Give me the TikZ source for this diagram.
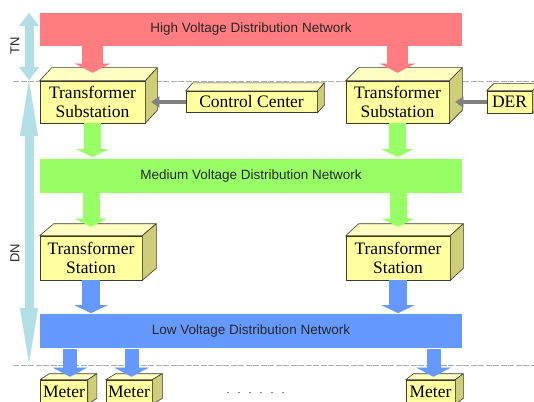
\documentclass[tikz,border=0pt]{standalone}
\usepackage{fontspec}
\setmainfont{Liberation Serif}
\setsansfont{Liberation Sans}
\usetikzlibrary{arrows.meta}
\definecolor{hvred}{RGB}{255,124,128}
\definecolor{mvgreen}{RGB}{153,255,102}
\definecolor{lvblue}{RGB}{102,153,255}
\definecolor{cubefrontc}{RGB}{255,255,160}
\definecolor{cubetopc}{RGB}{255,255,196}
\definecolor{cubesidec}{RGB}{206,206,120}
\definecolor{cubeedge}{RGB}{60,60,45}
\definecolor{dimblue}{RGB}{178,222,229}
\definecolor{ctrlgray}{RGB}{128,128,128}
\definecolor{sepgray}{RGB}{170,170,170}
\tikzset{
  bar/.style={fill=#1, draw=none, minimum width=422pt, minimum height=33.5pt, inner sep=0pt,
    font=\sffamily\fontsize{13.5}{16}\selectfont, text=black!85},
  cubefront/.style={fill=cubefrontc, draw=cubeedge, line width=0.6pt, inner sep=0pt, align=center,
    font=\rmfamily\fontsize{17.5}{19}\selectfont},
  cubetop/.style={fill=cubetopc, draw=cubeedge, line width=0.6pt, line join=round},
  cubeside/.style={fill=cubesidec, draw=cubeedge, line width=0.6pt, line join=round},
  blockarrow/.style n args={4}{draw=#1, line width=#2,
    -{Triangle[length=#3 0 0, width=#4 0 0, line width=0.01pt]}},
  ctrlarrow/.style={draw=ctrlgray, line width=4pt,
    -{Triangle[length=8pt 0 0, width=11pt 0 0, line width=0.01pt]}},
  sepline/.style={draw=sepgray, line width=0.8pt, dash pattern=on 6pt off 1.5pt},
  dimlabel/.style={font=\sffamily\fontsize{13}{15}\selectfont, rotate=90, text=black!85},
}
\newcommand\cubenode[6]{%
  \node[cubefront, minimum width=#3, minimum height=#4] (#1) at (#2) {#6};
  \filldraw[cubetop] (#1.north west) -- ++(#5) -- ([shift={(#5)}]#1.north east) -- (#1.north east) -- cycle;
  \filldraw[cubeside] (#1.north east) -- ++(#5) -- ([shift={(#5)}]#1.south east) -- (#1.south east) -- cycle;
}
\begin{document}
\begin{tikzpicture}[x=1pt,y=-1pt]
\useasboundingbox (0,0) rectangle (534,401);
\clip (0,0) rectangle (534,401);
\fill[white] (0,0) rectangle (534,401);

% separator lines
\coordinate (s1a) at (13,81);
\coordinate (s1b) at (534,81);
\coordinate (s2a) at (13,365);
\coordinate (s2b) at (534,365);
\draw[sepline] (s1a) -- (s1b);
\draw[sepline] (s2a) -- (s2b);

% TN / DN dimension arrows
\coordinate (tnTop) at (29,13);
\coordinate (tnBot) at (29,80);
\coordinate (dnTop) at (29,81);
\coordinate (dnBot) at (29,363);
\draw[draw=dimblue, line width=9pt,
  {Triangle[length=13pt 0 0, width=20pt 0 0, line width=0.01pt]}-{Triangle[length=13pt 0 0, width=20pt 0 0, line width=0.01pt]}]
  (tnTop) -- (tnBot);
\draw[draw=dimblue, line width=9pt,
  {Triangle[length=55pt 0 0, width=18pt 0 0, line width=0.01pt]}-{Triangle[length=55pt 0 0, width=18pt 0 0, line width=0.01pt]}]
  (dnTop) -- (dnBot);
\node[dimlabel] (tn) at (15,46) {TN};
\node[dimlabel] (dn) at (15,253) {DN};

% bars
\node[bar=hvred] (hv) at (251,29.5) {High Voltage Distribution Network};
\node[bar=mvgreen] (mv) at (251,176) {Medium Voltage Distribution Network};
\node[bar=lvblue, minimum height=34pt] (lv) at (251,331.3) {Low Voltage Distribution Network};

% boxes
\cubenode{ts1}{92.5,102}{105pt}{42pt}{12,-13}{Transformer\\Substation}
\cubenode{ts2}{397.5,102}{103pt}{42pt}{13,-13}{Transformer\\Substation}
\cubenode{cc}{251.5,102}{131pt}{21.5pt}{7,-8}{Control Center}
\cubenode{der}{509.5,102}{45pt}{22pt}{7,-7}{DER}
\cubenode{tst1}{91,258}{102pt}{44pt}{14,-12}{Transformer\\Station}
\cubenode{tst2}{398,258}{104pt}{44pt}{13,-12}{Transformer\\Station}
\cubenode{m1}{64,392}{47pt}{24pt}{9,-6}{Meter}
\cubenode{m2}{129,392}{46pt}{24pt}{10,-6}{Meter}
\cubenode{m3}{430.5,392}{49pt}{24pt}{8,-6}{Meter}

% dots
\node[font=\rmfamily\fontsize{10}{12}\selectfont] (dots) at (255.5,393)
  {.\hspace{8.5pt}.\hspace{8.5pt}.\hspace{8.5pt}.\hspace{8.5pt}.\hspace{8.5pt}.};

% HV -> substations
\draw[blockarrow={hvred}{21pt}{9pt}{35pt}] (hv.south -| ts1.north) -- ([yshift=8pt]ts1.north);
\draw[blockarrow={hvred}{21pt}{9pt}{35pt}] (hv.south -| ts2.north) -- ([yshift=8pt]ts2.north);

% control / DER
\draw[ctrlarrow] (cc.west) -- ([xshift=6pt]ts1.east);
\draw[ctrlarrow] (der.west) -- ([xshift=6pt]ts2.east);

% substations -> MV
\coordinate (mvin1) at ([yshift=2pt]mv.north -| ts1.south);
\coordinate (mvin2) at ([yshift=2pt]mv.north -| ts2.south);
\draw[blockarrow={mvgreen}{17pt}{8pt}{32pt}] (ts1.south) -- (mvin1);
\draw[blockarrow={mvgreen}{17pt}{8pt}{32pt}] (ts2.south) -- (mvin2);

% MV -> stations
\draw[blockarrow={mvgreen}{17pt}{8pt}{32pt}] (mv.south -| tst1.north) -- ([yshift=9pt]tst1.north);
\draw[blockarrow={mvgreen}{17pt}{8pt}{32pt}] (mv.south -| tst2.north) -- ([yshift=9pt]tst2.north);

% stations -> LV
\coordinate (lvin1) at ([yshift=1pt]lv.north -| tst1.south);
\coordinate (lvin2) at ([yshift=1pt]lv.north -| tst2.south);
\draw[blockarrow={lvblue}{18pt}{8pt}{33pt}] (tst1.south) -- (lvin1);
\draw[blockarrow={lvblue}{18pt}{8pt}{33pt}] (tst2.south) -- (lvin2);

% LV -> meters
\coordinate (m1in) at ([xshift=6pt,yshift=3pt]m1.north);
\coordinate (m2in) at ([xshift=2.5pt,yshift=3pt]m2.north);
\coordinate (m3in) at ([xshift=3pt,yshift=3pt]m3.north);
\draw[blockarrow={lvblue}{14pt}{9pt}{34pt}] (lv.south -| m1in) -- (m1in);
\draw[blockarrow={lvblue}{14pt}{9pt}{34pt}] (lv.south -| m2in) -- (m2in);
\draw[blockarrow={lvblue}{14pt}{9pt}{34pt}] (lv.south -| m3in) -- (m3in);
\end{tikzpicture}
\end{document}
